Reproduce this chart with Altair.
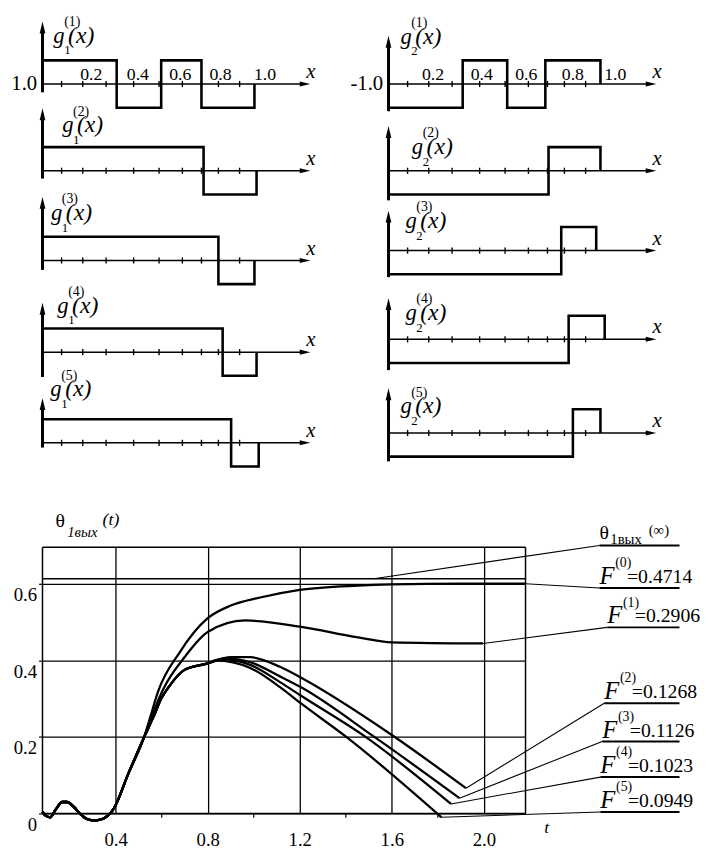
import altair as alt
import pandas as pd

SERIF = "Liberation Serif"

# ======================= DATA: upper panels =======================
# g1^(k)(x) (left column) and g2^(k)(x) (right column): step breakpoints and levels
G1_BREAKS = [[0.35, 0.56, 0.75, 1.0], [0.76, 1.01], [0.83, 1.0], [0.85, 1.01], [0.89, 1.02]]
G1_LEVELS = [[1, -1, 1, -1], [1, -1], [1, -1], [1, -1], [1, -1]]
G2_BREAKS = [[0.35, 0.56, 0.74, 1.0], [0.755, 1.0], [0.815, 0.98], [0.85, 1.02], [0.87, 1.0]]
G2_LEVELS = [[-1, 1, -1, 1], [-1, 1], [-1, 1], [-1, 1], [-1, 1]]
G1_YAXIS_TOP = [2.35, 2.35, 2.4, 1.8, 1.6]
G1_YAXIS_BOTTOM = [-0.35, -0.33, -0.4, -1.05, -0.2]
G2_YAXIS_TOP = [1.75, 1.6, 1.4, 1.45, 1.6]
G2_YAXIS_BOTTOM = [-1.15, -1.25, -1.12, -1.3, -1.2]
X_AXIS_END = 1.225
X_TICKS = [0.09, 0.19, 0.30, 0.43, 0.55, 0.66, 0.75, 0.83, 0.93]
TICK_LABELS = ["0.2", "0.4", "0.6", "0.8", "1.0"]
G1_TICK_LABEL_X = [0.23, 0.45, 0.65, 0.84, 1.05]
G2_TICK_LABEL_X = [0.21, 0.44, 0.65, 0.87, 1.07]
LEVEL_LABELS = ["1.0", "-1.0"]
ORDER_LABELS = ["(1)", "(2)", "(3)", "(4)", "(5)"]
FUNC_INDEX = ["1", "2"]

# ======================= DATA: lower chart =======================
WIGGLE_T = [0.082, 0.094, 0.115, 0.139, 0.168, 0.188, 0.217, 0.249, 0.278, 0.306, 0.339, 0.367, 0.392, 0.455, 0.524]
WIGGLE_Y = [0.005, -0.005, -0.010, 0.010, 0.030, 0.030, 0.018, -0.003, -0.015, -0.018, -0.015, -0.005, 0.013, 0.104, 0.200]
F0_T = [0.552, 0.584, 0.676, 0.8, 0.9, 1.028, 1.2, 1.453, 1.6, 1.9, 2.181]
F0_Y = [0.255, 0.318, 0.419, 0.51, 0.543, 0.564, 0.584, 0.595, 0.598, 0.6, 0.6]
F1_T = [0.561, 0.607, 0.699, 0.8, 0.963, 1.2, 1.453, 1.6, 1.996]
F1_Y = [0.26, 0.325, 0.408, 0.474, 0.504, 0.488, 0.460, 0.447, 0.444]
FC_T = [0.566, 0.598, 0.63, 0.699, 0.8]
FC_Y = [0.255, 0.30, 0.33, 0.375, 0.392]
F2_T = [0.899, 0.985, 1.114, 1.204, 1.6, 1.922]
F2_Y = [0.408, 0.408, 0.383, 0.355, 0.205, 0.066]
F3_T = [0.877, 0.985, 1.114, 1.204, 1.524, 1.894]
F3_Y = [0.405, 0.395, 0.358, 0.33, 0.2, 0.04]
F4_T = [0.856, 0.985, 1.114, 1.204, 1.486, 1.857]
F4_Y = [0.403, 0.388, 0.343, 0.308, 0.2, 0.025]
F5_T = [0.834, 0.985, 1.114, 1.204, 1.402, 1.816]
F5_Y = [0.40, 0.38, 0.33, 0.288, 0.2, -0.01]
THETA_INF = 0.613
X_GRID = [0.4, 0.8, 1.2, 1.6, 2.0]
Y_GRID = [0.0, 0.2, 0.4, 0.6]
MINOR_T = [0.6, 1.0, 1.4, 1.8]
F_ORDERS = ["(0)", "(1)", "(2)", "(3)", "(4)", "(5)"]
F_VALUES = ["=0.4714", "=0.2906", "=0.1268", "=0.1126", "=0.1023", "=0.0949"]
# leader lines: from a point on a curve to the start of a label's underline
LEADER_T = [1.521, 2.181, 1.996, 1.922, 1.894, 1.857, 1.816]
LEADER_Y = [THETA_INF, 0.6, 0.444, 0.066, 0.04, 0.025, -0.01]
LABEL_T = [2.502, 2.502, 2.536, 2.523, 2.514, 2.506, 2.506]
LABEL_Y = [0.700, 0.589, 0.486, 0.288, 0.188, 0.095, 0.004]
UNDERLINE_END_T = 2.85

# ======================= LAYOUT =======================
PX_PER_X = 215
PX_PER_G = 24
TOP_W, TOP_H = 633, 450
COL_X_PX = [0, 351]
ROW_AXIS_PX = [[71, 159, 250, 343, 435], [71, 159, 240, 330, 425]]
NAME_X = [[0.051, 0.093, 0.04, 0.07, 0.037], [0.056, 0.11, 0.08, 0.08, 0.056]]
NAME_Y = [[1.75, 1.62, 1.71, 1.67, 1.96], [1.71, 0.71, 0.96, 0.83, 0.83]]
BOT_W, BOT_H = 490, 270
T_DOMAIN = [0.082, 2.181]
Y_DOMAIN = [0.0, 0.695]
SPACER_PX = 34

UP_ARROW = "M0,-1L-0.42,0.75L0.42,0.75Z"
RIGHT_ARROW = "M1,0L-0.75,-0.42L-0.75,0.42Z"

# ======================= upper block =======================
cols = [
    (G1_BREAKS, G1_LEVELS, G1_YAXIS_TOP, G1_YAXIS_BOTTOM, G1_TICK_LABEL_X),
    (G2_BREAKS, G2_LEVELS, G2_YAXIS_TOP, G2_YAXIS_BOTTOM, G2_TICK_LABEL_X),
]
steps, yax, xax, ticks, names, ticklabs, levlabs = [], [], [], [], [], [], []
for c, (BR, LV, YT, YB, TLX) in enumerate(cols):
    xo = COL_X_PX[c] / PX_PER_X
    for r in range(5):
        yo = -ROW_AXIS_PX[c][r] / PX_PER_G
        key = f"{c}-{r}"
        lv, br = LV[r], BR[r]
        pts = [(0.0, lv[0])]
        for i, b in enumerate(br):
            pts.append((b, lv[i]))
            pts.append((b, lv[i + 1] if i + 1 < len(lv) else 0))
        for k, (px, py) in enumerate(pts):
            steps.append(dict(key=key, o=k, x=xo + px, y=yo + py))
        yax.append(dict(x=xo, y=yo + YB[r], y2=yo + YT[r]))
        xax.append(dict(x=xo, x2=xo + X_AXIS_END, y=yo, xe=xo + X_AXIS_END + 0.01, xl=xo + 1.245, yl=yo + 0.25))
        for tx in X_TICKS:
            ticks.append(dict(x=xo + tx, y=yo - 0.13, y2=yo + 0.13))
        names.append(dict(x=xo + NAME_X[c][r], y=yo + NAME_Y[c][r], g="g", arg="(x)",
                          sup=ORDER_LABELS[r], sub=FUNC_INDEX[c]))
        if r == 0:
            for lab, lx in zip(TICK_LABELS, TLX):
                ticklabs.append(dict(x=xo + lx, y=yo + 0.17, text=lab))
            levlabs.append(dict(x=xo - 0.025, y=yo - 0.27, text=LEVEL_LABELS[c]))

xs_top = alt.Scale(domain=[0, TOP_W / PX_PER_X], nice=False, zero=False)
ys_top = alt.Scale(domain=[-TOP_H / PX_PER_G, 0], nice=False, zero=False)
TX = alt.X("x:Q", scale=xs_top, axis=None)
TY = alt.Y("y:Q", scale=ys_top, axis=None)

d_steps = pd.DataFrame(steps)
d_yax = pd.DataFrame(yax)
d_xax = pd.DataFrame(xax)
d_ticks = pd.DataFrame(ticks)
d_names = pd.DataFrame(names)

top_layers = [
    alt.Chart(d_yax).mark_rule(color="black", strokeWidth=3).encode(x=TX, y=TY, y2="y2:Q"),
    alt.Chart(d_yax).mark_point(shape=UP_ARROW, filled=True, size=190, color="black", opacity=1)
    .encode(x=TX, y=alt.Y("y2:Q", scale=ys_top, axis=None)),
    alt.Chart(d_xax).mark_rule(color="black", strokeWidth=1.5).encode(x=TX, x2="x2:Q", y=TY),
    alt.Chart(d_xax).mark_point(shape=RIGHT_ARROW, filled=True, size=150, color="black", opacity=1)
    .encode(x=alt.X("xe:Q", scale=xs_top, axis=None), y=TY),
    alt.Chart(d_ticks).mark_rule(color="black", strokeWidth=1.4).encode(x=TX, y=TY, y2="y2:Q"),
    alt.Chart(d_steps).mark_line(color="black", strokeWidth=2.6, strokeJoin="miter")
    .encode(x=TX, y=TY, detail="key:N", order="o:Q"),
    alt.Chart(d_xax).mark_text(text="x", font=SERIF, fontSize=21, fontStyle="italic", align="left",
                               baseline="alphabetic", color="black")
    .encode(x=alt.X("xl:Q", scale=xs_top, axis=None), y=alt.Y("yl:Q", scale=ys_top, axis=None)),
    alt.Chart(d_names).mark_text(font=SERIF, fontSize=23, fontStyle="italic", align="left",
                                 baseline="alphabetic", color="black").encode(x=TX, y=TY, text="g:N"),
    alt.Chart(d_names).mark_text(font=SERIF, fontSize=24, fontStyle="italic", align="left",
                                 baseline="alphabetic", color="black", dx=15).encode(x=TX, y=TY, text="arg:N"),
    alt.Chart(d_names).mark_text(font=SERIF, fontSize=14, align="left", baseline="alphabetic",
                                 color="black", dx=11, dy=-17).encode(x=TX, y=TY, text="sup:N"),
    alt.Chart(d_names).mark_text(font=SERIF, fontSize=13, align="left", baseline="alphabetic",
                                 color="black", dx=11, dy=12).encode(x=TX, y=TY, text="sub:N"),
    alt.Chart(pd.DataFrame(ticklabs)).mark_text(font=SERIF, fontSize=18, align="center",
                                                baseline="alphabetic", color="black")
    .encode(x=TX, y=TY, text="text:N"),
    alt.Chart(pd.DataFrame(levlabs)).mark_text(font=SERIF, fontSize=21, align="right",
                                               baseline="alphabetic", color="black")
    .encode(x=TX, y=TY, text="text:N"),
]
top = alt.layer(*top_layers).properties(width=TOP_W, height=TOP_H)

# ======================= lower chart =======================
series = {
    "F0": (WIGGLE_T + F0_T, WIGGLE_Y + F0_Y),
    "F1": (WIGGLE_T + F1_T, WIGGLE_Y + F1_Y),
    "F2": (WIGGLE_T + FC_T + F2_T, WIGGLE_Y + FC_Y + F2_Y),
    "F3": (WIGGLE_T + FC_T + F3_T, WIGGLE_Y + FC_Y + F3_Y),
    "F4": (WIGGLE_T + FC_T + F4_T, WIGGLE_Y + FC_Y + F4_Y),
    "F5": (WIGGLE_T + FC_T + F5_T, WIGGLE_Y + FC_Y + F5_Y),
}
rows = []
for name, (ts, ys) in series.items():
    for k, (t, y) in enumerate(zip(ts, ys)):
        rows.append(dict(s=name, o=k, t=t, y=y))
d_curves = pd.DataFrame(rows)

xs_b = alt.Scale(domain=T_DOMAIN, nice=False, zero=False)
ys_b = alt.Scale(domain=Y_DOMAIN, nice=False, zero=False)
x_axis = alt.Axis(values=X_GRID, grid=True, gridColor="black", gridWidth=1.3, gridOpacity=1,
                  domain=False, ticks=False, labelFont=SERIF, labelFontSize=19, labelColor="black",
                  labelPadding=17, format=".1f", title=None)
y_axis = alt.Axis(values=Y_GRID, grid=True, gridColor="black", gridWidth=1.3, gridOpacity=1,
                  domain=False, ticks=True, tickSize=4, tickColor="black", tickWidth=1.2,
                  labelFont=SERIF, labelFontSize=19, labelColor="black", labelPadding=2,
                  labelBaseline="top", labelOffset=2,
                  labelExpr="datum.value == 0 ? '0' : format(datum.value, '.1f')", title=None)
BX = alt.X("t:Q", scale=xs_b, axis=x_axis)
BY = alt.Y("y:Q", scale=ys_b, axis=y_axis)

d_frame = pd.DataFrame([
    dict(t=T_DOMAIN[0], t2=T_DOMAIN[0], y=Y_DOMAIN[0], y2=Y_DOMAIN[1]),
    dict(t=T_DOMAIN[1], t2=T_DOMAIN[1], y=Y_DOMAIN[0], y2=Y_DOMAIN[1]),
    dict(t=T_DOMAIN[0], t2=T_DOMAIN[1], y=Y_DOMAIN[1], y2=Y_DOMAIN[1]),
    dict(t=T_DOMAIN[0], t2=T_DOMAIN[1], y=Y_DOMAIN[0], y2=Y_DOMAIN[0]),
    dict(t=T_DOMAIN[0], t2=T_DOMAIN[1], y=THETA_INF, y2=THETA_INF),
])
d_minor = pd.DataFrame(dict(t=MINOR_T, t2=MINOR_T, y=[0.0] * len(MINOR_T), y2=[-0.011] * len(MINOR_T)))
d_lead = pd.DataFrame(dict(t=LEADER_T, y=LEADER_Y, t2=LABEL_T, y2=LABEL_Y))
d_under = pd.DataFrame(dict(t=LABEL_T, t2=[UNDERLINE_END_T] * len(LABEL_T), y=LABEL_Y, y2=LABEL_Y))
d_flab = pd.DataFrame(dict(t=LABEL_T[1:], y=LABEL_Y[1:], F=["F"] * 6, sup=F_ORDERS, val=F_VALUES))
d_theta = pd.DataFrame(dict(t=[LABEL_T[0]], y=[LABEL_Y[0]], a=["θ"], b=["1вых"], c=["(∞)"]))
d_title = pd.DataFrame(dict(t=[0.138, 0.189, 0.343], y=[0.749, 0.723, 0.754], text=["θ", "1вых", "(t)"],
                            kind=["a", "b", "c"]))
d_tlab = pd.DataFrame(dict(t=[2.262], y=[-0.05], text=["t"]))
spacer_t = T_DOMAIN[0] - SPACER_PX * (T_DOMAIN[1] - T_DOMAIN[0]) / BOT_W
d_spacer = pd.DataFrame(dict(t=[spacer_t], t2=[spacer_t + 0.01], y=[0.3], y2=[0.3]))


def txt(df, **kw):
    base = dict(font=SERIF, color="black", align="left", baseline="alphabetic")
    base.update(kw)
    return alt.Chart(df).mark_text(**base)


bottom_layers = [
    alt.Chart(d_curves).mark_line(interpolate="monotone", color="black", strokeWidth=2.3)
    .encode(x=BX, y=BY, detail="s:N", order="o:Q"),
    alt.Chart(d_frame).mark_rule(color="black", strokeWidth=1.5).encode(x=BX, x2="t2:Q", y=BY, y2="y2:Q"),
    alt.Chart(d_minor).mark_rule(color="black", strokeWidth=1.2).encode(x=BX, x2="t2:Q", y=BY, y2="y2:Q"),
    alt.Chart(d_lead).mark_rule(color="black", strokeWidth=1.1).encode(x=BX, x2="t2:Q", y=BY, y2="y2:Q"),
    alt.Chart(d_under).mark_rule(color="black", strokeWidth=2).encode(x=BX, x2="t2:Q", y=BY, y2="y2:Q"),
    alt.Chart(d_spacer).mark_rule(color="white", strokeWidth=1).encode(x=BX, x2="t2:Q", y=BY, y2="y2:Q"),
    txt(d_flab, fontSize=25, fontStyle="italic", dy=-4).encode(x=BX, y=BY, text="F:N"),
    txt(d_flab, fontSize=14, dx=16, dy=-21).encode(x=BX, y=BY, text="sup:N"),
    txt(d_flab, fontSize=20, dx=28, dy=-5).encode(x=BX, y=BY, text="val:N"),
    txt(d_theta, fontSize=20, dy=-7).encode(x=BX, y=BY, text="a:N"),
    txt(d_theta, fontSize=15, dx=11, dy=-1).encode(x=BX, y=BY, text="b:N"),
    txt(d_theta, fontSize=15, dx=50, dy=-11).encode(x=BX, y=BY, text="c:N"),
    txt(d_title[d_title.kind == "a"], fontSize=20).encode(x=BX, y=BY, text="text:N"),
    txt(d_title[d_title.kind == "b"], fontSize=15, fontStyle="italic").encode(x=BX, y=BY, text="text:N"),
    txt(d_title[d_title.kind == "c"], fontSize=18, fontStyle="italic").encode(x=BX, y=BY, text="text:N"),
    txt(d_tlab, fontSize=18, fontStyle="italic").encode(x=BX, y=BY, text="text:N"),
]
bottom = alt.layer(*bottom_layers).properties(width=BOT_W, height=BOT_H)

chart = (
    alt.vconcat(top, bottom, spacing=91, bounds="flush")
    .properties(padding=0)
    .configure(background="white")
    .configure_view(stroke=None)
)
chart.save("out.html", embed_options={"renderer": "svg", "actions": False})
